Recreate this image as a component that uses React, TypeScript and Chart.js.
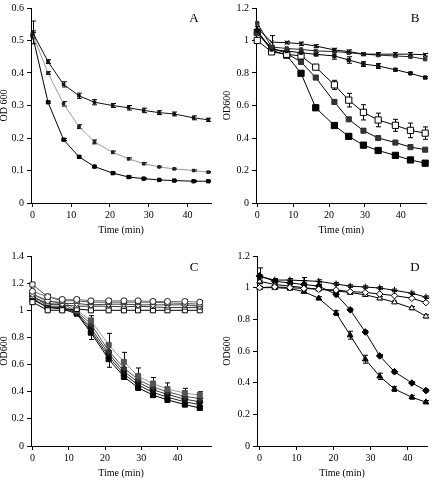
import React, { useEffect, useRef } from "react";
import { Chart, registerables } from "chart.js";

Chart.register(...registerables);

const FONT = "'Liberation Serif', 'Times New Roman', serif";
Chart.defaults.font.family = FONT;
Chart.defaults.color = "#000";

// ---------- shared tick labels ----------
const xTickValues = [0, 10, 20, 30, 40];
const yTicksA = [0, 0.1, 0.2, 0.3, 0.4, 0.5, 0.6];
const yTicksB = [0, 0.2, 0.4, 0.6, 0.8, 1, 1.2];
const yTicksC = [0, 0.2, 0.4, 0.6, 0.8, 1, 1.2, 1.4];
const yTicksD = [0, 0.2, 0.4, 0.6, 0.8, 1, 1.2];

// ---------- Panel A ----------
const timesA = [0, 4, 8, 12, 16, 20.7, 24.8, 28.7, 32.7, 36.6, 41.6, 45.4];
const aSlow = [0.525, 0.435, 0.365, 0.33, 0.31, 0.3, 0.293, 0.285, 0.278, 0.274, 0.262, 0.256];
const aSlowErr = [0.035, 0.006, 0.008, 0.008, 0.008, 0.006, 0.007, 0.007, 0.006, 0.006, 0.006, 0.005];
const aMid = [0.52, 0.4, 0.305, 0.235, 0.188, 0.156, 0.136, 0.121, 0.111, 0.105, 0.1, 0.095];
const aMidErr = [0.01, 0.004, 0.007, 0.006, 0.006, 0.004, 0.003, 0.003, 0.002, 0.002, 0.002, 0.002];
const aFast = [0.515, 0.31, 0.195, 0.142, 0.112, 0.092, 0.08, 0.075, 0.071, 0.069, 0.067, 0.067];
const aFastErr = [0.01, 0.003, 0.003, 0.003, 0.003, 0.003, 0.003, 0.002, 0.002, 0.002, 0.002, 0.002];

// ---------- Panel B ----------
const timesB = [0, 4, 8.2, 12.2, 16.3, 21.5, 25.5, 29.6, 33.7, 38.5, 42.7, 46.8];
const bCross = [1.077, 0.99, 0.987, 0.98, 0.966, 0.942, 0.932, 0.916, 0.916, 0.916, 0.916, 0.912];
const bCrossErr = [0.01, 0.04, 0.008, 0.01, 0.008, 0.01, 0.01, 0.008, 0.01, 0.01, 0.01, 0.008];
const bSmallA = [1.107, 0.96, 0.951, 0.945, 0.936, 0.932, 0.925, 0.916, 0.91, 0.905, 0.9, 0.885];
const bSmallB = [1.06, 0.945, 0.935, 0.925, 0.915, 0.905, 0.88, 0.855, 0.843, 0.82, 0.798, 0.772];
const bSmallBErr = [0.01, 0.02, 0.01, 0.01, 0.01, 0.02, 0.02, 0.015, 0.015, 0.008, 0.006, 0.006];
const bOpen = [1.0, 0.93, 0.915, 0.905, 0.836, 0.727, 0.633, 0.558, 0.511, 0.478, 0.447, 0.43];
const bOpenErr = [0.008, 0.01, 0.01, 0.01, 0.01, 0.028, 0.042, 0.047, 0.042, 0.037, 0.045, 0.038];
const bGray = [1.045, 0.955, 0.92, 0.868, 0.772, 0.622, 0.515, 0.445, 0.4, 0.372, 0.344, 0.328];
const bGrayErr = [0.008, 0.008, 0.008, 0.008, 0.008, 0.01, 0.01, 0.01, 0.008, 0.008, 0.008, 0.008];
const bBlack = [1.05, 0.94, 0.91, 0.798, 0.586, 0.477, 0.41, 0.356, 0.323, 0.293, 0.265, 0.245];
const bBlackErr = [0.008, 0.02, 0.008, 0.008, 0.008, 0.008, 0.008, 0.008, 0.008, 0.01, 0.015, 0.01];

// ---------- Panel C ----------
const timesC = [0, 4.2, 8.2, 12.2, 16.1, 21, 25.2, 29.1, 33.2, 37.2, 42, 46.1];
const cUpCircle = [1.14, 1.1, 1.08, 1.08, 1.07, 1.07, 1.07, 1.07, 1.065, 1.065, 1.065, 1.06];
const cUpSquare = [1.19, 1.1, 1.07, 1.07, 1.06, 1.06, 1.06, 1.06, 1.06, 1.055, 1.05, 1.045];
const cUpDiamond = [1.12, 1.07, 1.05, 1.05, 1.04, 1.045, 1.045, 1.04, 1.04, 1.04, 1.04, 1.03];
const cUpTriangle = [1.1, 1.05, 1.04, 1.03, 1.03, 1.03, 1.025, 1.03, 1.025, 1.02, 1.02, 1.02];
const cUpBottom = [1.06, 1.0, 1.0, 1.01, 1.0, 1.0, 1.0, 1.0, 1.0, 1.0, 1.0, 1.0];
const cUpErr = [0.012, 0.012, 0.012, 0.012, 0.012, 0.012, 0.012, 0.012, 0.012, 0.012, 0.012, 0.012];
const cLowGray = [1.12, 1.06, 1.07, 1.0, 0.925, 0.745, 0.62, 0.515, 0.46, 0.42, 0.39, 0.375];
const cLowGrayErr = [0.01, 0.01, 0.01, 0.01, 0.035, 0.085, 0.07, 0.06, 0.045, 0.045, 0.035, 0.025];
const cLowDiamond = [1.1, 1.04, 1.05, 0.99, 0.9, 0.7, 0.575, 0.49, 0.435, 0.4, 0.365, 0.35];
const cLowCircle = [1.11, 1.03, 1.03, 0.985, 0.87, 0.68, 0.55, 0.47, 0.415, 0.38, 0.345, 0.325];
const cLowTriangle = [1.09, 1.02, 1.02, 0.98, 0.85, 0.66, 0.53, 0.45, 0.395, 0.36, 0.325, 0.305];
const cLowBlack = [1.08, 1.02, 1.01, 0.975, 0.835, 0.64, 0.51, 0.43, 0.375, 0.34, 0.305, 0.28];
const cLowBlackErr = [0.01, 0.01, 0.01, 0.01, 0.05, 0.06, 0.02, 0.02, 0.015, 0.015, 0.012, 0.01];

// ---------- Panel D ----------
const timesD = [0, 4.1, 8.2, 12, 16, 20.7, 24.5, 28.6, 32.5, 36.5, 41.2, 45];
const dPlus = [1.07, 1.048, 1.048, 1.044, 1.04, 1.023, 1.01, 1.004, 0.998, 0.983, 0.965, 0.94];
const dPlusErr = [0.01, 0.01, 0.01, 0.02, 0.01, 0.01, 0.008, 0.008, 0.008, 0.008, 0.008, 0.008];
const dOpenDiamond = [1.0, 1.005, 1.0, 0.995, 0.99, 0.985, 0.975, 0.97, 0.96, 0.95, 0.933, 0.906];
const dOpenTriangle = [1.04, 1.02, 1.01, 1.0, 0.99, 0.98, 0.969, 0.955, 0.933, 0.908, 0.871, 0.819];
const dOpenTriangleErr = [0.008, 0.008, 0.008, 0.008, 0.008, 0.008, 0.01, 0.008, 0.01, 0.008, 0.01, 0.01];
const dDiamond = [1.075, 1.04, 1.03, 1.02, 1.01, 0.958, 0.86, 0.72, 0.569, 0.469, 0.398, 0.35];
const dDiamondErr = [0.05, 0.01, 0.01, 0.01, 0.01, 0.015, 0.01, 0.01, 0.008, 0.008, 0.008, 0.008];
const dTriangle = [1.0, 1.0, 0.995, 0.975, 0.933, 0.84, 0.7, 0.548, 0.44, 0.36, 0.308, 0.277];
const dTriangleErr = [0.008, 0.008, 0.008, 0.008, 0.01, 0.015, 0.025, 0.025, 0.02, 0.015, 0.012, 0.01];

type Series = {
  data: number[];
  err?: number[];
  line: string;
  fill: string;
  stroke: string;
  style: string;
  r: number;
  lw?: number;
};

type PanelSpec = {
  letter: string;
  yTitle: string;
  times: number[];
  xMin: number;
  xMax: number;
  yMax: number;
  yTicks: number[];
  area: { left: number; top: number; right: number; bottom: number };
  yTitlePad: number;
  letterX: number;
  letterY: number;
  series: Series[];
};

const panels: { spec: PanelSpec; left: number; top: number }[] = [
  {
    left: 0,
    top: 0,
    spec: {
      letter: "A",
      yTitle: "OD 600",
      times: timesA,
      xMin: -0.4,
      xMax: 46.1,
      yMax: 0.6,
      yTicks: yTicksA,
      area: { left: 31, top: 7, right: 211, bottom: 203 },
      yTitlePad: -1,
      letterX: 194,
      letterY: 19,
      series: [
        { data: aSlow, err: aSlowErr, line: "#111", fill: "#111", stroke: "#111", style: "rect", r: 1.8 },
        { data: aMid, err: aMidErr, line: "#999", fill: "#222", stroke: "#222", style: "rect", r: 1.8 },
        { data: aFast, err: aFastErr, line: "#000", fill: "#000", stroke: "#000", style: "rect", r: 2.4 },
      ],
    },
  },
  {
    left: 216,
    top: 0,
    spec: {
      letter: "B",
      yTitle: "OD600",
      times: timesB,
      xMin: -0.35,
      xMax: 47.2,
      yMax: 1.2,
      yTicks: yTicksB,
      area: { left: 40, top: 5, right: 213, bottom: 203 },
      yTitlePad: 6,
      letterX: 199,
      letterY: 19,
      series: [
        { data: bCross, err: bCrossErr, line: "#000", fill: "#000", stroke: "#000", style: "crossRot", r: 3 },
        { data: bSmallA, line: "#222", fill: "#333", stroke: "#333", style: "rect", r: 2.4 },
        { data: bSmallB, err: bSmallBErr, line: "#000", fill: "#111", stroke: "#111", style: "rect", r: 2.4 },
        { data: bOpen, err: bOpenErr, line: "#000", fill: "#fff", stroke: "#000", style: "rect", r: 4.4 },
        { data: bGray, err: bGrayErr, line: "#000", fill: "#333", stroke: "#333", style: "rect", r: 3.6 },
        { data: bBlack, err: bBlackErr, line: "#000", fill: "#000", stroke: "#000", style: "rect", r: 4.4 },
      ],
    },
  },
  {
    left: 0,
    top: 243,
    spec: {
      letter: "C",
      yTitle: "OD600",
      times: timesC,
      xMin: -0.4,
      xMax: 49.2,
      yMax: 1.4,
      yTicks: yTicksC,
      area: { left: 31, top: 13, right: 213, bottom: 203 },
      yTitlePad: -0.5,
      letterX: 194,
      letterY: 25,
      series: [
        { data: cUpCircle, err: cUpErr, line: "#777", fill: "#fff", stroke: "#222", style: "circle", r: 3 },
        { data: cUpSquare, err: cUpErr, line: "#555", fill: "#fff", stroke: "#222", style: "rect", r: 3.6 },
        { data: cUpDiamond, line: "#444", fill: "#fff", stroke: "#222", style: "rectRot", r: 3.2 },
        { data: cUpTriangle, line: "#333", fill: "#fff", stroke: "#222", style: "triangle", r: 3.2 },
        { data: cUpBottom, line: "#000", fill: "#fff", stroke: "#000", style: "rect", r: 3.6 },
        { data: cLowGray, err: cLowGrayErr, line: "#999", fill: "#555", stroke: "#555", style: "rect", r: 3.6 },
        { data: cLowDiamond, line: "#555", fill: "#333", stroke: "#333", style: "rectRot", r: 3.2 },
        { data: cLowCircle, line: "#333", fill: "#111", stroke: "#111", style: "circle", r: 3 },
        { data: cLowTriangle, line: "#222", fill: "#000", stroke: "#000", style: "triangle", r: 3.2 },
        { data: cLowBlack, err: cLowBlackErr, line: "#000", fill: "#000", stroke: "#000", style: "rect", r: 3.6 },
      ],
    },
  },
  {
    left: 216,
    top: 243,
    spec: {
      letter: "D",
      yTitle: "OD600",
      times: timesD,
      xMin: -0.7,
      xMax: 45.3,
      yMax: 1.2,
      yTicks: yTicksD,
      area: { left: 41, top: 13, right: 213, bottom: 203 },
      yTitlePad: 6.5,
      letterX: 199,
      letterY: 25,
      series: [
        { data: dPlus, err: dPlusErr, line: "#000", fill: "#000", stroke: "#000", style: "cross", r: 3.5 },
        { data: dOpenDiamond, line: "#000", fill: "#fff", stroke: "#000", style: "rectRot", r: 3.3 },
        { data: dOpenTriangle, err: dOpenTriangleErr, line: "#000", fill: "#fff", stroke: "#000", style: "triangle", r: 3.3 },
        { data: dDiamond, err: dDiamondErr, line: "#000", fill: "#000", stroke: "#000", style: "rectRot", r: 3.3 },
        { data: dTriangle, err: dTriangleErr, line: "#000", fill: "#000", stroke: "#000", style: "triangle", r: 3.3 },
      ],
    },
  },
];

const errorBarPlugin = {
  id: "errorBars",
  beforeDatasetsDraw(chart: any) {
    const ctx = chart.ctx;
    const xs = chart.scales.x;
    const ys = chart.scales.y;
    ctx.save();
    ctx.lineWidth = 1;
    chart.data.datasets.forEach((ds: any) => {
      if (!ds.errors) return;
      ctx.strokeStyle = ds.errColor || "#000";
      ds.data.forEach((p: any, i: number) => {
        const e = ds.errors[i];
        if (!e) return;
        const x = Math.round(xs.getPixelForValue(p.x)) + 0.5;
        const y1 = ys.getPixelForValue(p.y + e);
        const y2 = ys.getPixelForValue(p.y - e);
        ctx.beginPath();
        ctx.moveTo(x, y1);
        ctx.lineTo(x, y2);
        ctx.moveTo(x - 2.5, y1);
        ctx.lineTo(x + 2.5, y1);
        ctx.moveTo(x - 2.5, y2);
        ctx.lineTo(x + 2.5, y2);
        ctx.stroke();
      });
    });
    ctx.restore();
  },
};

function fmt(v: number) {
  return String(Math.round(v * 10) / 10);
}

function Panel({ spec, left, top }: { spec: PanelSpec; left: number; top: number }) {
  const ref = useRef<HTMLCanvasElement>(null);
  useEffect(() => {
    const canvas = ref.current;
    if (!canvas) return;
    const letterPlugin = {
      id: "panelLetter",
      afterDraw(chart: any) {
        const ctx = chart.ctx;
        ctx.save();
        ctx.font = `13px ${FONT}`;
        ctx.fillStyle = "#000";
        ctx.textAlign = "center";
        ctx.textBaseline = "middle";
        ctx.fillText(spec.letter, spec.letterX, spec.letterY);
        ctx.restore();
      },
    };
    const chart = new Chart(canvas, {
      type: "line",
      data: {
        datasets: spec.series.map((s) => ({
          data: spec.times.map((t, i) => ({ x: t, y: s.data[i] })),
          errors: s.err,
          errColor: "#000",
          borderColor: s.line,
          borderWidth: s.lw ?? 1,
          pointStyle: s.style,
          pointRadius: s.r,
          pointBackgroundColor: s.fill,
          pointBorderColor: s.stroke,
          pointBorderWidth: 1,
          tension: 0,
          fill: false,
          clip: false,
        })) as any,
      },
      options: {
        animation: false,
        responsive: false,
        devicePixelRatio: 1,
        events: [],
        layout: {
          padding: { left: 0, top: spec.area.top, right: 216 - spec.area.right, bottom: 0 },
        },
        plugins: { legend: { display: false }, tooltip: { enabled: false } },
        scales: {
          x: {
            type: "linear",
            min: spec.xMin,
            max: spec.xMax,
            afterBuildTicks: (s: any) => {
              s.ticks = xTickValues.map((v) => ({ value: v }));
            },
            afterFit: (s: any) => {
              s.height = 243 - spec.area.bottom;
            },
            grid: { display: true, drawOnChartArea: false, drawTicks: true, tickLength: 4, tickColor: "#000" },
            border: { display: true, color: "#000", width: 1 },
            ticks: {
              color: "#000",
              font: { size: 10, family: FONT, lineHeight: 1 },
              padding: 3,
              maxRotation: 0,
              autoSkip: false,
              callback: (v: any) => String(v),
            },
            title: {
              display: true,
              text: "Time (min)",
              color: "#000",
              font: { size: 10, family: FONT, lineHeight: 1 },
              padding: { top: 0, bottom: 8 },
            },
          },
          y: {
            type: "linear",
            min: 0,
            max: spec.yMax,
            afterBuildTicks: (s: any) => {
              s.ticks = spec.yTicks.map((v) => ({ value: v }));
            },
            afterFit: (s: any) => {
              s.width = spec.area.left;
            },
            grid: { display: true, drawOnChartArea: false, drawTicks: true, tickLength: 4, tickColor: "#000" },
            border: { display: true, color: "#000", width: 1 },
            ticks: {
              color: "#000",
              font: { size: 10, family: FONT, lineHeight: 1 },
              padding: 3,
              autoSkip: false,
              callback: (v: any) => fmt(Number(v)),
            },
            title: {
              display: true,
              text: spec.yTitle,
              color: "#000",
              font: { size: 10, family: FONT, lineHeight: 1 },
              padding: { top: spec.yTitlePad, bottom: 0 },
            },
          },
        },
      } as any,
      plugins: [errorBarPlugin, letterPlugin] as any,
    });
    return () => chart.destroy();
  }, [spec]);
  return (
    <div style={{ position: "absolute", left, top, width: 216, height: 243 }}>
      <canvas ref={ref} width={216} height={243} style={{ display: "block" }} />
    </div>
  );
}

export default function App() {
  return (
    <div style={{ position: "absolute", left: 0, top: 0, width: 432, height: 486, background: "#fff" }}>
      {panels.map((p) => (
        <Panel key={p.spec.letter} spec={p.spec} left={p.left} top={p.top} />
      ))}
    </div>
  );
}
